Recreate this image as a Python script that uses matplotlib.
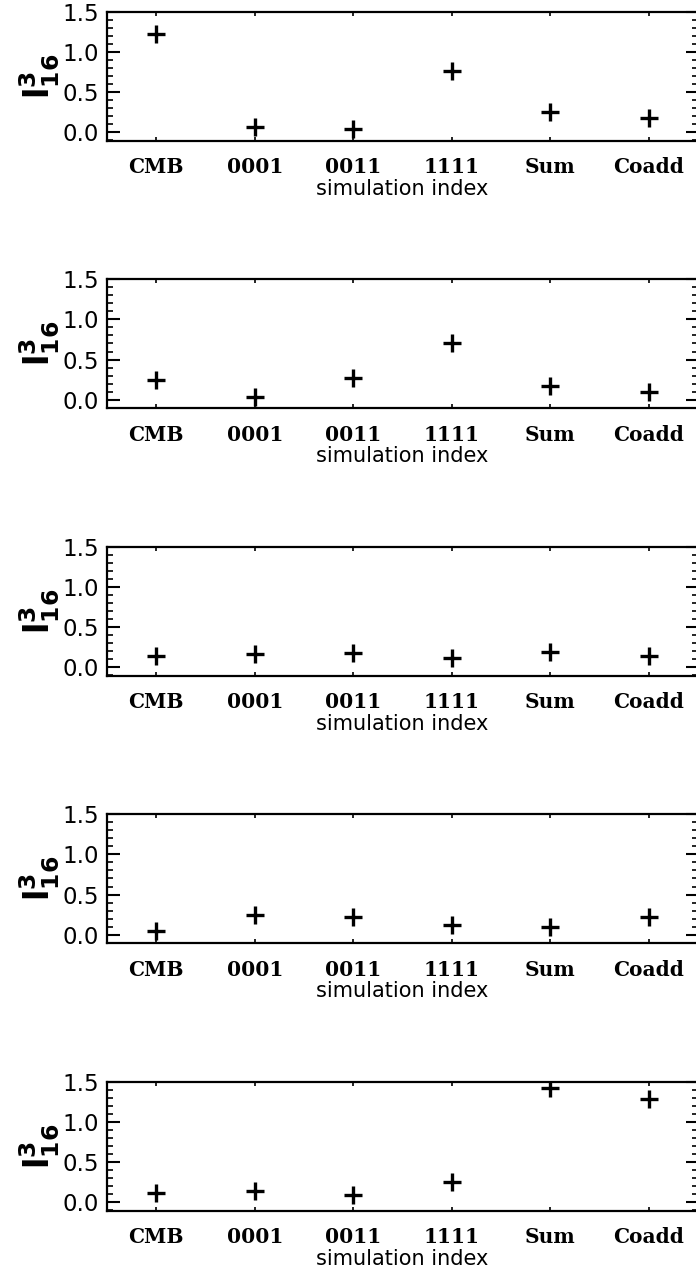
import numpy as np
import matplotlib
matplotlib.use("Agg")
import matplotlib.pyplot as plt
from matplotlib.ticker import MultipleLocator

# simulation labels along the x axis
categories = ['CMB', '0001', '0011', '1111', 'Sum', 'Coadd']

# l^3_16 value for each panel (top to bottom)
panel1 = [1.22, 0.07, 0.04, 0.76, 0.25, 0.18]
panel2 = [0.25, 0.04, 0.27, 0.70, 0.17, 0.10]
panel3 = [0.14, 0.17, 0.18, 0.12, 0.19, 0.14]
panel4 = [0.05, 0.24, 0.22, 0.12, 0.10, 0.22]
panel5 = [0.12, 0.14, 0.09, 0.25, 1.42, 1.28]
panels = [panel1, panel2, panel3, panel4, panel5]

W, H = 696, 1279
fig = plt.figure(figsize=(W / 100, H / 100), dpi=100)

x = np.arange(len(categories))
for k, vals in enumerate(panels):
    top = 11.7 + 267.5 * k
    bot = top + 129.0
    ax = fig.add_axes([107 / W, 1 - bot / H, 591 / W, 129.0 / H])
    ax.plot(x, vals, linestyle='none', marker='+', color='black',
            markersize=13, markeredgewidth=2.4)

    ax.set_xlim(-0.5, 5.5)
    ax.set_ylim(-0.105, 1.5)
    ax.set_xticks(x)
    ax.set_xticklabels(categories, family='DejaVu Serif', fontweight='bold',
                       fontsize=14.5)
    ax.yaxis.set_major_locator(MultipleLocator(0.5))
    ax.yaxis.set_minor_locator(MultipleLocator(0.1))
    ax.set_yticks([0.0, 0.5, 1.0, 1.5])
    ax.set_yticklabels(['0.0', '0.5', '1.0', '1.5'], family='DejaVu Sans',
                       fontsize=16.5)

    ax.tick_params(axis='x', which='major', direction='in', top=True,
                   length=3, width=1.2, pad=12)
    ax.tick_params(axis='y', which='major', direction='in', right=True,
                   length=9, width=1.5, pad=6)
    ax.tick_params(axis='y', which='minor', direction='in', right=True,
                   length=4.5, width=1.2)
    ax.tick_params(axis='x', which='minor', bottom=False, top=False)
    for sp in ax.spines.values():
        sp.set_linewidth(1.6)

    ax.set_xlabel('simulation index', family='DejaVu Sans', fontsize=15,
                  labelpad=1)
    ax.set_ylabel(r'$\mathbf{l}^{\mathbf{3}}_{\mathbf{16}}$', fontsize=24,
                  labelpad=0)

fig.savefig('out.png', dpi=100)
